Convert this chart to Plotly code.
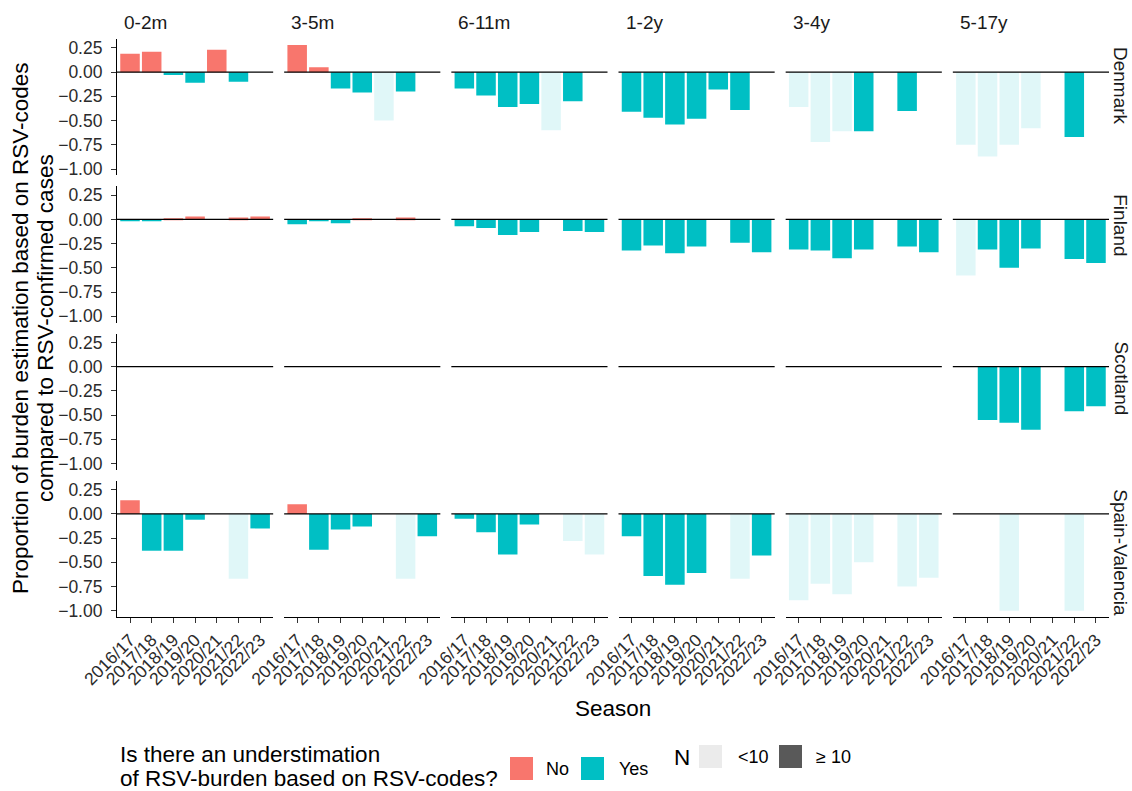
import plotly.graph_objects as go
from plotly.subplots import make_subplots

seasons = ["2016/17", "2017/18", "2018/19", "2019/20", "2020/21", "2021/22", "2022/23"]
age_groups = ["0-2m", "3-5m", "6-11m", "1-2y", "3-4y", "5-17y"]
countries = ["Denmark", "Finland", "Scotland", "Spain-Valencia"]

# proportion values per age group (rows) x season (cols); None = no bar
denmark = [
    [0.19, 0.21, -0.03, -0.11, 0.23, -0.10, None],
    [0.28, 0.05, -0.17, -0.21, -0.50, -0.20, None],
    [-0.17, -0.24, -0.36, -0.33, -0.60, -0.30, None],
    [-0.41, -0.47, -0.54, -0.48, -0.18, -0.39, None],
    [-0.36, -0.72, -0.61, -0.61, None, -0.40, None],
    [-0.75, -0.87, -0.75, -0.58, None, -0.67, None],
]
finland = [
    [-0.02, -0.01, 0.01, 0.03, None, 0.02, 0.03],
    [-0.05, -0.01, -0.04, 0.01, None, 0.02, None],
    [-0.07, -0.09, -0.16, -0.13, None, -0.12, -0.13],
    [-0.32, -0.27, -0.35, -0.28, None, -0.24, -0.34],
    [-0.31, -0.32, -0.40, -0.31, None, -0.28, -0.34],
    [-0.58, -0.31, -0.50, -0.30, None, -0.41, -0.45],
]
scotland = [
    [None] * 7,
    [None] * 7,
    [None] * 7,
    [None] * 7,
    [None] * 7,
    [None, -0.55, -0.58, -0.65, None, -0.46, -0.41],
]
spain_valencia = [
    [0.14, -0.38, -0.38, -0.06, None, -0.67, -0.15],
    [0.10, -0.37, -0.16, -0.13, None, -0.67, -0.23],
    [-0.05, -0.19, -0.42, -0.11, None, -0.28, -0.42],
    [-0.23, -0.64, -0.73, -0.61, None, -0.67, -0.43],
    [-0.89, -0.72, -0.83, -0.50, None, -0.75, -0.66],
    [None, None, -1.00, None, None, -1.00, None],
]

# 1 = N < 10 (faded bar), 0 = N >= 10
denmark_small = [
    [0, 0, 0, 0, 0, 0, 0],
    [0, 0, 0, 0, 1, 0, 0],
    [0, 0, 0, 0, 1, 0, 0],
    [0, 0, 0, 0, 0, 0, 0],
    [1, 1, 1, 0, 0, 0, 0],
    [1, 1, 1, 1, 0, 0, 0],
]
finland_small = [
    [0] * 7, [0] * 7, [0] * 7, [0] * 7, [0] * 7,
    [1, 0, 0, 0, 0, 0, 0],
]
scotland_small = [[0] * 7 for _ in range(6)]
spain_valencia_small = [
    [0, 0, 0, 0, 0, 1, 0],
    [0, 0, 0, 0, 0, 1, 0],
    [0, 0, 0, 0, 0, 1, 1],
    [0, 0, 0, 0, 0, 1, 0],
    [1, 1, 1, 1, 1, 1, 1],
    [1, 1, 1, 1, 1, 1, 1],
]

values = {"Denmark": denmark, "Finland": finland, "Scotland": scotland, "Spain-Valencia": spain_valencia}
small = {"Denmark": denmark_small, "Finland": finland_small, "Scotland": scotland_small,
         "Spain-Valencia": spain_valencia_small}

y_ticks = [0.25, 0.0, -0.25, -0.5, -0.75, -1.0]
y_ticktext = ["0.25", "0.00", "\u22120.25", "\u22120.50", "\u22120.75", "\u22121.00"]

COL_NO = "#F8766D"
COL_YES = "#00BFC4"
FAINT = {COL_NO: "rgba(248,118,109,0.12)", COL_YES: "rgba(0,191,196,0.12)"}

FONT = "Liberation Sans, Arial, sans-serif"
BASE = 22.5
W, H = 1132, 791

# plot area (figure pixels)
L, R, T, B = 117.0, 1109.0, 39.0, 617.0
hgap, vgap = 11.0, 11.0

fig = make_subplots(
    rows=4, cols=6,
    horizontal_spacing=hgap / (R - L),
    vertical_spacing=vgap / (B - T),
)

for ri, country in enumerate(countries):
    for ci, age in enumerate(age_groups):
        # empty trace so every panel exists
        fig.add_trace(go.Bar(x=seasons, y=[None] * len(seasons), showlegend=False, hoverinfo="skip"),
                      row=ri + 1, col=ci + 1)
        vals = values[country][ci]
        sm = small[country][ci]
        groups = {}
        for si, s in enumerate(seasons):
            v = vals[si]
            if v is None:
                continue
            col = COL_NO if v > 0 else COL_YES
            key = (col, sm[si])
            groups.setdefault(key, ([], []))
            groups[key][0].append(s)
            groups[key][1].append(v)
        for (col, is_small), (xs, ys) in groups.items():
            fig.add_trace(
                go.Bar(
                    x=xs, y=ys, width=0.9,
                    marker=dict(color=FAINT[col] if is_small else col, line=dict(width=0)),
                    showlegend=False, hoverinfo="skip",
                ),
                row=ri + 1, col=ci + 1,
            )
        fig.add_hline(y=0, line=dict(color="black", width=1.4), row=ri + 1, col=ci + 1)

fig.update_layout(barmode="overlay")

TICKFONT = dict(family=FONT, size=17.5, color="#2b2b2b")
fig.update_xaxes(
    type="category", categoryorder="array", categoryarray=seasons,
    range=[-0.6, 6.6], showgrid=False, zeroline=False,
    showline=False, ticks="", showticklabels=False,
)
fig.update_xaxes(
    showline=True, linecolor="black", linewidth=1.1,
    ticks="outside", ticklen=5, tickwidth=1.1, tickcolor="#333333",
    showticklabels=True, tickangle=-45, tickfont=TICKFONT,
    row=4,
)
fig.update_yaxes(
    range=[-1.064, 0.342], showgrid=False, zeroline=False,
    showline=False, ticks="", showticklabels=False,
    tickvals=y_ticks, ticktext=y_ticktext,
)
fig.update_yaxes(
    showline=True, linecolor="black", linewidth=1.1,
    ticks="outside", ticklen=5, tickwidth=1.1, tickcolor="#333333",
    showticklabels=True, tickfont=TICKFONT, ticklabelstandoff=5,
    col=1,
)


# figure pixel -> paper coordinates
def px(x):
    return (x - L) / (R - L)


def py(y):
    return (B - y) / (B - T)


annotations = []
panel_w = (R - L - 5 * hgap) / 6
panel_h = (B - T - 3 * vgap) / 4
for ci, age in enumerate(age_groups):
    x0 = L + ci * (panel_w + hgap)
    annotations.append(dict(
        text=age, x=px(x0 + 5), y=py(22), xref="paper", yref="paper",
        xanchor="left", yanchor="middle", showarrow=False,
        font=dict(family=FONT, size=19, color="#1a1a1a"),
    ))
for ri, country in enumerate(countries):
    y0 = T + ri * (panel_h + vgap)
    annotations.append(dict(
        text=country, x=px(1121), y=py(y0 + 6), xref="paper", yref="paper",
        xanchor="center", yanchor="top", showarrow=False, textangle=90,
        font=dict(family=FONT, size=19, color="#1a1a1a"),
    ))

annotations.append(dict(
    text="Season", x=px((L + R) / 2), y=py(708), xref="paper", yref="paper",
    xanchor="center", yanchor="middle", showarrow=False,
    font=dict(family=FONT, size=BASE, color="black"),
))
for txt, xx in [("Proportion of burden estimation based on RSV-codes", 20),
                ("compared to RSV-confirmed cases", 45)]:
    annotations.append(dict(
        text=txt, x=px(xx), y=py((T + B) / 2), xref="paper", yref="paper",
        xanchor="center", yanchor="middle", showarrow=False, textangle=-90,
        font=dict(family=FONT, size=BASE, color="black"),
    ))

# legend (drawn manually)
for txt, yy in [("Is there an understimation", 755), ("of RSV-burden based on RSV-codes?", 778)]:
    annotations.append(dict(
        text=txt, x=px(118), y=py(yy), xref="paper", yref="paper",
        xanchor="left", yanchor="middle", showarrow=False,
        font=dict(family=FONT, size=BASE, color="black"),
    ))
for txt, xx, yy in [("No", 544, 769), ("Yes", 617, 769), ("<10", 736, 757), ("\u2265 10", 814, 757)]:
    annotations.append(dict(
        text=txt, x=px(xx), y=py(yy), xref="paper", yref="paper",
        xanchor="left", yanchor="middle", showarrow=False,
        font=dict(family=FONT, size=18, color="black"),
    ))
annotations.append(dict(
    text="N", x=px(672), y=py(757), xref="paper", yref="paper",
    xanchor="left", yanchor="middle", showarrow=False,
    font=dict(family=FONT, size=BASE, color="black"),
))

shapes = []
for x0, y0, x1, y1, col in [
    (510, 757, 533, 780, COL_NO),
    (581, 757, 604, 780, COL_YES),
    (699, 745, 722, 768, "#EBEBEB"),
    (779, 745, 802, 768, "#595959"),
]:
    shapes.append(dict(
        type="rect", xref="paper", yref="paper",
        x0=px(x0), x1=px(x1), y0=py(y1), y1=py(y0),
        fillcolor=col, line=dict(width=0),
    ))

fig.update_layout(
    width=W, height=H,
    margin=dict(l=L, r=W - R, t=T, b=H - B, autoexpand=False),
    paper_bgcolor="white", plot_bgcolor="white",
    annotations=list(fig.layout.annotations) + annotations,
    shapes=list(fig.layout.shapes) + shapes,
    font=dict(family=FONT),
)

fig.write_html(
    "out.html",
    config={"displayModeBar": False},
    post_script="document.body.style.margin='0';document.body.style.overflow='hidden';",
)
